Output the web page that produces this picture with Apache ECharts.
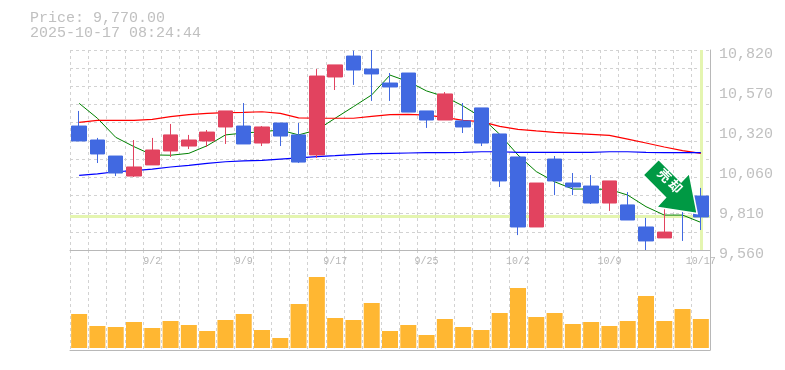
<!DOCTYPE html>
<html><head><meta charset="utf-8">
<style>html,body{margin:0;padding:0;background:#fff}#c{width:785px;height:370px}</style>
<script src="https://cdn.jsdelivr.net/npm/echarts@6/dist/echarts.min.js"></script>
</head><body><div id="c"></div>
<script>
const categories=['8/27','8/28','8/29','9/1','9/2','9/3','9/4','9/5','9/8','9/9','9/10','9/11','9/12','9/16','9/17','9/18','9/19','9/22','9/24','9/25','9/26','9/29','9/30','10/1','10/2','10/3','10/6','10/7','10/8','10/9','10/10','10/14','10/15','10/16','10/17'];
const tickDates=['9/2','9/9','9/17','9/25','10/2','10/9','10/17'];
const priceText='Price: 9,770.00';
const timeText='2025-10-17 08:24:44';
const lastPrice=9770;
// [open, close, low, high]
const candles=[
[10341,10247,10247,10436],[10253,10165,10108,10266],[10152,10045,10026,10152],[10026,10083,10020,10253],
[10096,10190,10096,10266],[10184,10285,10146,10354],[10215,10253,10196,10285],[10247,10303,10209,10316],
[10335,10436,10228,10436],[10341,10228,10228,10486],[10234,10335,10215,10341],[10360,10278,10215,10360],
[10285,10114,10108,10360],[10159,10656,10140,10700],[10650,10726,10568,10726],[10782,10694,10600,10816],
[10700,10669,10499,10820],[10612,10587,10499,10675],[10675,10429,10429,10675],[10436,10379,10329,10436],
[10379,10543,10379,10555],[10373,10335,10297,10486],[10455,10234,10215,10455],[10291,9995,9957,10291],
[10146,9705,9654,10146],[9705,9982,9705,9982],[10133,9995,9906,10152],[9982,9957,9906,10045],
[9963,9856,9850,10032],[9856,9995,9806,9995],[9844,9749,9749,9925],[9705,9617,9560,9762],
[9636,9673,9636,9818],[9856,9831,9617,9856],[9900,9768,9686,9951]];
const maShort=[10484,10390,10270,10211,10159,10157,10169,10217,10285,10297,10305,10316,10285,10316,10390,10463,10537,10662,10621,10562,10526,10467,10396,10289,10158,10054,9990,9944,9944,9942,9906,9833,9780,9780,9734];
const maMid=[10364,10377,10377,10377,10383,10400,10413,10421,10425,10427,10431,10421,10392,10390,10390,10390,10402,10413,10415,10410,10396,10377,10369,10339,10320,10310,10301,10295,10289,10282,10259,10234,10209,10186,10169];
const maLong=[10030,10039,10053,10060,10070,10083,10093,10106,10116,10121,10125,10133,10140,10148,10154,10161,10167,10169,10171,10173,10173,10175,10179,10179,10175,10175,10175,10175,10175,10179,10179,10175,10173,10173,10173];
const volumes=[34,22,21,26,20,27,23,17,28,34,18,10,44,71,30,28,45,17,23,13,29,21,18,35,60,31,35,24,26,22,27,52,27,39,29];
const C={grid:'#d2d2d2',axis:'#b8b8b8',text:'#c0c0c0',tick:'#b6b6b6',up:'#e2435f',down:'#4169e1',vol:'#ffb732',hi:'#e4f5b0',arrow:'#009944'};
const arrowPath='path://M14.6 0L35.8 21.2L43.6 13L51 51L12.6 45L21.1 35.8L0 14.7Z';
const dash={color:C.grid,type:[3,3],width:1};
const font='"Liberation Mono"';
const chart=echarts.init(document.getElementById('c'),null,{renderer:'canvas'});
const xBase={type:'category',data:categories,boundaryGap:true,axisTick:{show:false},
  splitLine:{show:true,interval:0,lineStyle:dash},axisLine:{show:true,onZero:false,lineStyle:{color:C.axis,width:1}}};
const maLine=(name,data,color,width)=>({name,type:'line',data,xAxisIndex:0,yAxisIndex:0,symbol:'none',z:2,
  lineStyle:{color,width},silent:true});
chart.setOption({
 animation:false,backgroundColor:'#fff',
 title:{text:priceText+'\n'+timeText,left:30,top:11,padding:0,textStyle:{fontFamily:font,fontSize:15,fontWeight:'normal',color:C.text,lineHeight:15}},
 grid:[{left:70,top:50,width:640,height:200},{left:70,top:250,width:640,height:100}],
 xAxis:[
  Object.assign({},xBase,{gridIndex:0,position:'bottom',axisLabel:{show:true,interval:(i,v)=>tickDates.includes(v),margin:6,
     fontFamily:font,fontSize:10,color:C.tick,hideOverlap:false,showMinLabel:true,showMaxLabel:true}}),
  Object.assign({},xBase,{gridIndex:1,position:'bottom',axisLabel:{show:false}})
 ],
 yAxis:[
  {type:'value',gridIndex:0,position:'right',min:9560,max:10820,interval:252,
   axisLine:{show:true,lineStyle:{color:C.axis,width:1}},axisTick:{show:false},splitLine:{show:false},
   axisLabel:{margin:9,fontFamily:font,fontSize:15,color:C.text,verticalAlign:'top',lineHeight:8,
     formatter:v=>(Math.round(v/10)*10).toLocaleString('en-US')}},
  {type:'value',gridIndex:0,position:'left',min:0,max:11,interval:1,axisLine:{show:false},axisTick:{show:false},axisLabel:{show:false},
   splitLine:{show:true,lineStyle:dash}},
  {type:'value',gridIndex:1,position:'right',min:-2,max:98,axisLine:{show:true,lineStyle:{color:C.axis,width:1}},
   axisTick:{show:false},axisLabel:{show:false},splitLine:{show:false}}
 ],
 series:[
  {type:'line',data:[],xAxisIndex:0,yAxisIndex:0,z:1,silent:true,
   markLine:{silent:true,z:1,symbol:'none',label:{show:false},animation:false,
     lineStyle:{color:C.hi,width:3,type:'solid'},
     data:[{yAxis:lastPrice},{xAxis:categories[categories.length-1]}]}},
  maLine('short',maShort,'#008000',1),
  maLine('mid',maMid,'#ff0000',1.2),
  maLine('long',maLong,'#0000ff',1.2),
  {type:'candlestick',data:candles,xAxisIndex:0,yAxisIndex:0,z:3,barWidth:15,silent:true,
   itemStyle:{color:C.up,color0:C.down,borderColor:C.up,borderColor0:C.down,borderWidth:1},
   markPoint:{silent:true,z:6,animation:false,data:[{
     coord:[categories[33],9960],symbol:arrowPath,symbolSize:[54,54],symbolOffset:[-12.4,0],
     itemStyle:{color:C.arrow,borderColor:'#fff',borderWidth:1.5},
     label:{show:true,position:'inside',offset:[-4,-4],rotate:-45,formatter:'売\u2009却',
       fontFamily:'"Noto Sans CJK JP"',fontWeight:'bold',fontSize:13,color:'#fff'}
   }]}},
  {type:'bar',data:volumes,xAxisIndex:1,yAxisIndex:2,barWidth:16,itemStyle:{color:C.vol},silent:true}
 ]
});
</script></body></html>
